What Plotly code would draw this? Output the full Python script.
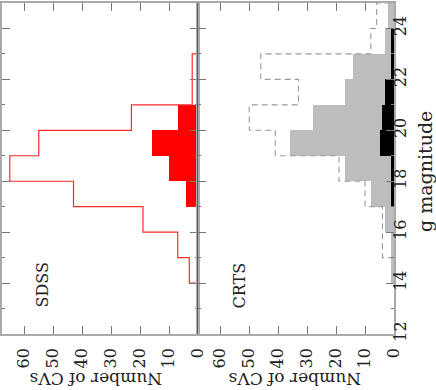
import plotly.graph_objects as go

# ---------------- data ----------------
# magnitude bins (lower edges, 1 mag wide)
sdss_bins = [14, 15, 16, 17, 18, 19, 20, 21, 22]
sdss_all = [3, 7, 19, 43, 65, 55, 23, 2, 2]          # red outline
sdss_fill_bins = [17, 18, 19, 20]
sdss_fill = [4, 10, 16, 7]                           # red filled

crts_gray_bins = [14, 15, 16, 17, 18, 19, 20, 21, 22, 23, 24]
crts_gray = [1, 1, 3, 8, 17, 36, 28, 17, 14, 3, 2]   # gray filled
crts_black_bins = [17, 18, 19, 20, 21, 22, 23]
crts_black = [1, 1, 5, 4, 3, 1, 1]                   # black filled
crts_dash_bins = [15, 16, 17, 18, 19, 20, 21, 22, 23, 24]
crts_dash = [4, 4, 10, 19, 41, 50, 33, 46, 8, 6]     # dashed outline

count_ticks = [0, 10, 20, 30, 40, 50, 60]
mag_ticks = [12, 14, 16, 18, 20, 22, 24]

# ---------------- layout constants ----------------
W, H = 436, 390
ML, MR, MT, MB = 2, 42, 3, 56
PW, PH = W - ML - MR, H - MT - MB
FONT = "DejaVu Serif"
FRAME = "#aaaaaa"
TICKC = "#777777"
GRAY = "#bdbdbd"


def px_x(px):
    return (px - ML) / PW


def px_y(py):
    return (H - MB - py) / PH


def step_path(bins, vals):
    xs, ys = [0], [bins[0]]
    for b, v in zip(bins, vals):
        xs += [v, v]
        ys += [b, b + 1]
    xs.append(0)
    ys.append(bins[-1] + 1)
    return xs, ys


fig = go.Figure()

# left panel (SDSS)
fig.add_trace(go.Bar(x=sdss_fill, y=[b + 0.5 for b in sdss_fill_bins], orientation="h",
                     width=1, marker=dict(color="#ff0000", line=dict(width=0)),
                     xaxis="x", yaxis="y", showlegend=False))
sx, sy = step_path(sdss_bins, sdss_all)
fig.add_trace(go.Scatter(x=sx, y=sy, mode="lines", line=dict(color="#ff2a2a", width=1.2),
                         xaxis="x", yaxis="y", showlegend=False))

# right panel (CRTS)
fig.add_trace(go.Bar(x=crts_gray, y=[b + 0.5 for b in crts_gray_bins], orientation="h",
                     width=1, marker=dict(color=GRAY, line=dict(width=0)),
                     xaxis="x2", yaxis="y2", showlegend=False))
fig.add_trace(go.Bar(x=crts_black, y=[b + 0.5 for b in crts_black_bins], orientation="h",
                     width=1, marker=dict(color="#000000", line=dict(width=0)),
                     xaxis="x2", yaxis="y2", showlegend=False))
dx, dy = step_path(crts_dash_bins, crts_dash)
fig.add_trace(go.Scatter(x=dx, y=dy, mode="lines",
                         line=dict(color="#9a9a9a", width=1.1, dash="6px,4px"),
                         xaxis="x2", yaxis="y2", showlegend=False))

xcommon = dict(range=[67.7, 0], tickvals=count_ticks, ticks="inside", ticklen=8,
               tickcolor=TICKC, tickwidth=1, tickangle=-90,
               tickfont=dict(family=FONT, size=16, color="#222"),
               showline=True, linecolor=FRAME, linewidth=1.5, mirror="ticks",
               showgrid=False, zeroline=False, ticklabelstandoff=6, automargin=False)
ycommon = dict(range=[12, 25], tickvals=mag_ticks, ticks="inside", ticklen=8,
               tickcolor=TICKC, tickwidth=1,
               minor=dict(dtick=1, tick0=12, ticks="inside", ticklen=3, tickcolor=TICKC),
               showline=True, linecolor=FRAME, linewidth=1.5, mirror="ticks",
               showgrid=False, zeroline=False, automargin=False)

ann_font = dict(family=FONT, size=16, color="#222")
title_font = dict(family=FONT, size=17, color="#222")


def ann(text, px, py, angle, font):
    return dict(text=text, x=px_x(px), y=px_y(py), xref="paper", yref="paper",
                xanchor="center", yanchor="middle", textangle=angle,
                showarrow=False, font=font)


fig.update_layout(
    width=W, height=H,
    margin=dict(l=ML, r=MR, t=MT, b=MB),
    paper_bgcolor="white", plot_bgcolor="white",
    barmode="overlay", bargap=0,
    xaxis=dict(domain=[0, 0.5], anchor="y", **xcommon),
    yaxis=dict(domain=[0, 1], anchor="x", showticklabels=False, **ycommon),
    xaxis2=dict(domain=[0.5, 1], anchor="y2", **xcommon),
    yaxis2=dict(domain=[0, 1], anchor="x2", side="right", showticklabels=True,
                tickangle=-90, tickfont=dict(family=FONT, size=16, color="#222"),
                ticklabelstandoff=-9, **ycommon),
    shapes=[dict(type="line", xref="x", yref="y domain", x0=0, x1=0, y0=0, y1=1,
                 line=dict(color="#111111", width=1), layer="above")],
    annotations=[
        ann("SDSS", 41.5, 285, -90, ann_font),
        ann("CRTS", 238.5, 286, -90, ann_font),
        ann("Number of CVs", 96, 379, 180, title_font),
        ann("Number of CVs", 295, 379, 180, title_font),
        ann("g magnitude", 425, 172, -90, dict(family=FONT, size=19, color="#222")),
    ],
)

fig.write_html("out.html", config={"displayModeBar": False},
               post_script="document.body.style.margin='0px';document.body.style.overflow='hidden';")
